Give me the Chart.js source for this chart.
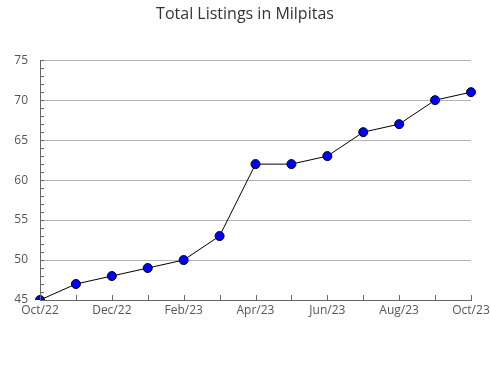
<!DOCTYPE html>
<html><head><meta charset="utf-8">
<script src="https://cdn.jsdelivr.net/npm/chart.js@4/dist/chart.umd.min.js"></script>
<style>html,body{margin:0;padding:0;background:#fff}#wrap{width:490px;height:380px}</style>
</head><body><div id="wrap"><canvas id="c" width="490" height="380"></canvas></div>
<script>
const months = ["Oct/22","Nov/22","Dec/22","Jan/23","Feb/23","Mar/23","Apr/23","May/23","Jun/23","Jul/23","Aug/23","Sep/23","Oct/23"];
const listings = [45,47,48,49,50,53,62,62,63,66,67,70,71];
const yMin = 45, yMax = 75, yStep = 5;
const titleText = "Total Listings in Milpitas";

const tickPlugin = {
  id: 'innerTicks',
  afterDatasetsDraw(chart) {
    const ctx = chart.ctx, x = chart.scales.x, y = chart.scales.y;
    ctx.save();
    ctx.strokeStyle = '#666';
    ctx.lineWidth = 1;
    ctx.beginPath();
    for (let v = yMin; v <= yMax; v++) {
      const py = Math.round(y.getPixelForValue(v)) + 0.5;
      ctx.moveTo(x.left, py); ctx.lineTo(x.left + 4, py);
    }
    for (let i = 0; i < months.length; i++) {
      const px = Math.round(x.getPixelForValue(i)) + 0.5;
      ctx.moveTo(px, y.bottom); ctx.lineTo(px, y.bottom - 5);
    }
    ctx.stroke();
    ctx.restore();
  }
};

new Chart(document.getElementById('c'), {
  type: 'line',
  data: {
    labels: months,
    datasets: [{
      data: listings,
      borderColor: '#000',
      borderWidth: 1,
      backgroundColor: '#0000ff',
      pointBackgroundColor: '#0000ff',
      pointBorderColor: '#000',
      pointBorderWidth: 1,
      pointRadius: 4.5,
      tension: 0,
      fill: false
    }]
  },
  options: {
    responsive: false,
    animation: false,
    events: [],
    layout: { padding: { left: 0, right: 0, top: 0, bottom: 0 } },
    plugins: {
      legend: { display: false },
      tooltip: { enabled: false },
      title: {
        display: true, text: titleText, color: '#333',
        font: { family: 'Open Sans', size: 16, weight: 'normal' },
        padding: { top: 5, bottom: 36 }
      }
    },
    scales: {
      x: {
        offset: false,
        grid: { display: false, drawTicks: false },
        border: { display: true, color: '#666' },
        ticks: {
          autoSkip: false, maxRotation: 0, padding: 3, color: '#555',
          font: { family: 'Open Sans', size: 12 },
          callback: (v, i) => (i % 2 === 0 ? months[i] : '')
        },
        afterFit: s => { s.height = 80; s.paddingRight = 19; }
      },
      y: {
        min: yMin, max: yMax,
        grid: { color: '#b4b4b4', drawTicks: false },
        border: { display: true, color: '#666' },
        ticks: { stepSize: yStep, padding: 12, color: '#555', font: { family: 'Open Sans', size: 12 } },
        afterFit: s => { s.width = 40; }
      }
    }
  },
  plugins: [tickPlugin]
});
</script></body></html>
